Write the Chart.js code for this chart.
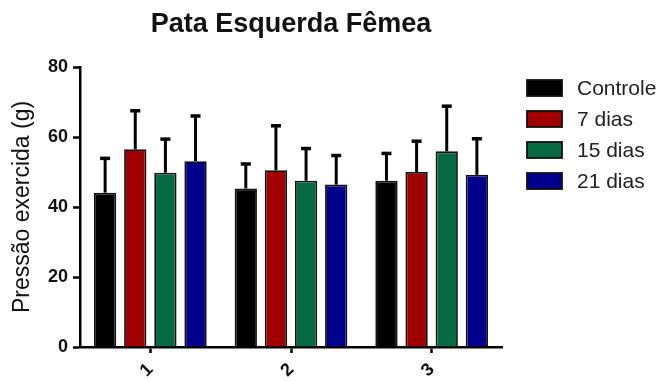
<!DOCTYPE html>
<html>
<head>
<meta charset="utf-8">
<script src="https://cdn.jsdelivr.net/npm/chart.js@4.4.1/dist/chart.umd.min.js"></script>
<style>
	html, body { margin: 0; padding: 0; background: #fff; }
	#wrap { width: 665px; height: 381px; }
</style>
</head>
<body>
<div id="wrap"><canvas id="myChart" width="665" height="381"></canvas></div>
<script>
// values
let labels = ['1', '2', '3'];
let seriesNames = ['Controle', '7 dias', '15 dias', '21 dias'];
let controle = [44.1, 45.3, 47.5];
let dias7 = [56.5, 50.5, 50.0];
let dias15 = [49.8, 47.5, 55.9];
let dias21 = [53.1, 46.4, 49.2];
// error (upper bar only)
let errControle = [9.8, 7.0, 7.8];
let errDias7 = [11.0, 12.7, 8.8];
let errDias15 = [9.6, 9.2, 12.9];
let errDias21 = [12.9, 8.3, 10.3];
let colors = ['#000000', '#a00000', '#066a44', '#00008c'];

let fontFam = '"Liberation Sans", Arial, sans-serif';

function makeSet(i, data, err) {
	return {
		label: seriesNames[i],
		data: data,
		errors: err,
		backgroundColor: colors[i],
		borderColor: '#111',
		borderWidth: 1.8,
		categoryPercentage: 0.857,
		barPercentage: 0.74
	};
}

let datasets = [
	makeSet(0, controle, errControle),
	makeSet(1, dias7, errDias7),
	makeSet(2, dias15, errDias15),
	makeSet(3, dias21, errDias21)
];

// error bars drawn from the y scale
let errorBars = {
	id: 'errorBars',
	afterDatasetsDraw(chart) {
		let ctx = chart.ctx;
		let yScale = chart.scales.y;
		ctx.save();
		ctx.strokeStyle = '#000';
		chart.data.datasets.forEach(function(ds, i) {
			let meta = chart.getDatasetMeta(i);
			meta.data.forEach(function(bar, j) {
				let top = yScale.getPixelForValue(ds.data[j] + ds.errors[j]);
				ctx.lineWidth = 3;
				ctx.beginPath();
				ctx.moveTo(bar.x, bar.y);
				ctx.lineTo(bar.x, top);
				ctx.stroke();
				ctx.lineWidth = 3.5;
				ctx.beginPath();
				ctx.moveTo(bar.x - 5, top);
				ctx.lineTo(bar.x + 5, top);
				ctx.stroke();
			});
		});
		ctx.restore();
	}
};

// legend on the right, drawn from the datasets
let sideLegend = {
	id: 'sideLegend',
	afterDraw(chart) {
		let ctx = chart.ctx;
		ctx.save();
		ctx.font = '21px ' + fontFam;
		ctx.textBaseline = 'middle';
		ctx.textAlign = 'left';
		chart.data.datasets.forEach(function(ds, i) {
			let y = 88 + i * 31;
			ctx.fillStyle = ds.backgroundColor;
			ctx.fillRect(527, y - 8, 35, 16);
			ctx.strokeStyle = '#111';
			ctx.lineWidth = 1.8;
			ctx.strokeRect(527, y - 8, 35, 16);
			ctx.fillStyle = '#222';
			ctx.fillText(ds.label, 577, y + 1);
		});
		ctx.restore();
	}
};

function createBarChart(elID, labels, datasets) {
	let ctx = document.getElementById(elID).getContext('2d');
	let myChart = new Chart(ctx, {
		type: 'bar',
		data: {
			labels: labels,
			datasets: datasets
		},
		options: {
			responsive: false,
			animation: false,
			layout: { padding: { left: 0, right: 163, top: 0, bottom: 0 } },
			plugins: {
				legend: { display: false },
				tooltip: { enabled: false },
				title: {
					display: true,
					text: 'Pata Esquerda Fêmea',
					fullSize: false,
					color: '#111',
					font: { family: fontFam, size: 27, weight: 'bold' },
					padding: { top: 8, bottom: 26.6 }
				}
			},
			scales: {
				x: {
					offset: true,
					afterFit: function(s) { s.height = 34; },
					grid: { offset: false, drawOnChartArea: false, tickLength: 6, tickColor: '#000', tickWidth: 2.5 },
					border: { color: '#000', width: 2.5 },
					ticks: {
						color: '#111',
						minRotation: 45,
						maxRotation: 45,
						padding: 6,
						font: { family: fontFam, size: 18, weight: 'bold' }
					}
				},
				y: {
					min: 0,
					max: 80,
					afterFit: function(s) { s.width = 80; },
					grid: { drawOnChartArea: false, tickLength: 7, tickColor: '#000', tickWidth: 2.5 },
					border: { color: '#000', width: 2.5 },
					ticks: {
						stepSize: 20,
						color: '#111',
						padding: 5,
						font: { family: fontFam, size: 18, weight: 'bold' }
					},
					title: {
						display: true,
						text: 'Pressão exercida (g)',
						color: '#111',
						font: { family: fontFam, size: 23 },
						padding: { top: 9, bottom: 0 }
					}
				}
			}
		},
		plugins: [errorBars, sideLegend]
	});
}

createBarChart('myChart', labels, datasets);
</script>
</body>
</html>
